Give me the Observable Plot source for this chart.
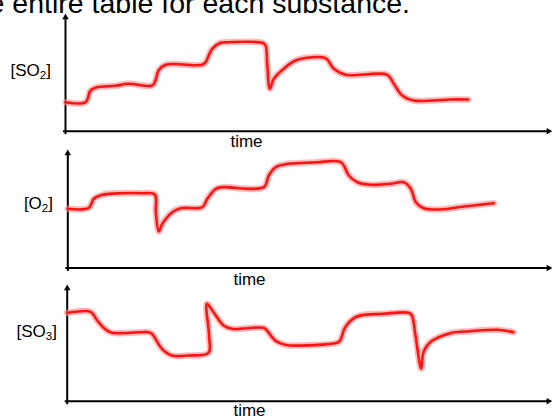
<!DOCTYPE html>
<html>
<head>
<meta charset="utf-8">
<script src="https://cdn.jsdelivr.net/npm/d3@7"></script>
<script src="https://cdn.jsdelivr.net/npm/@observablehq/plot@0.6"></script>
<style>
  html, body { margin: 0; padding: 0; background: #fff; }
  body { width: 552px; height: 419px; position: relative; overflow: hidden;
         font-family: "Liberation Sans", Arial, sans-serif; color: #000; }
  .abs { position: absolute; white-space: nowrap; line-height: 1; }
  .heading { font-size: 28.5px; right: 142px; top: -11px; text-align: right; }
  .ylab { font-size: 17px; text-align: right; left: 0; }
  .ylab sub { font-size: 0.68em; vertical-align: -0.22em; line-height: 0; }
  .tlab { font-size: 17px; width: 100px; text-align: center; line-height: 14px; }
  .panel { position: absolute; left: 0; }
  .panel svg { display: block; background: transparent; }
</style>
</head>
<body>
<script>
// ---- data (time in arbitrary units from axis origin, concentration in arbitrary units) ----
const headingText = "Complete the entire table for each substance.";
const species = [["SO", "2"], ["O", "2"], ["SO", "3"]];
const timeLabel = "time";

const so2Time = [0, 20, 25, 31.7, 50, 63, 86.7, 90, 93, 100, 136.7, 140, 146.7, 155, 163, 196.7, 200, 201.7, 204.3, 208.3, 220, 230, 238.3, 260, 268.3, 280, 321.7, 328.3, 336.7, 348.3, 368.3, 385, 402.7];
const so2Conc = [29, 29, 40.7, 44, 45.4, 47.4, 45.7, 50.7, 60.7, 66.4, 66.4, 69, 82.4, 88.4, 89, 88.4, 85.7, 67.4, 42.4, 52.4, 64, 70.7, 73, 73, 62.4, 56.4, 56.4, 47.4, 35.7, 30.7, 30.7, 31.7, 31.7];

const o2Time = [0, 21, 26, 34.5, 54.5, 74.5, 87, 88, 91, 94.5, 104.5, 113, 134.5, 139.5, 148, 154.5, 196, 201, 208, 221, 238, 249.5, 273, 281, 289.5, 303, 323, 336, 343, 348, 356, 373, 396, 426];
const o2Conc = [59.2, 60.2, 69.2, 73.2, 74.8, 74.8, 73.5, 55.8, 36.5, 44.2, 55.8, 59.8, 60.8, 69.2, 79.2, 80.8, 80.8, 92.5, 100.8, 104.2, 105.2, 105.8, 105.8, 92.5, 85.8, 83.2, 84.2, 85.8, 79.2, 65.8, 59.8, 58.5, 61.5, 64.8];

const so3Time = [0, 21.3, 24.7, 31.3, 43, 81.3, 84.7, 94.7, 104.7, 121.3, 141.3, 142, 139.7, 146.3, 156.3, 164.7, 196.3, 199.7, 208, 218, 223, 269.7, 273, 278, 289.7, 316.3, 341.3, 344.7, 348, 354, 356.3, 363, 383, 403, 429.7, 446.3];
const so3Conc = [88.4, 90, 88.4, 79, 69, 69, 67.4, 52.4, 45.7, 45.7, 48.4, 64, 97.4, 89, 75.7, 72.4, 73.4, 70.7, 60.7, 56.4, 55.7, 58.4, 60.7, 74, 84.7, 87.4, 88.4, 85.7, 67.4, 32.4, 49, 59, 68, 70, 71.4, 69];

const series = [
  {time: so2Time, conc: so2Conc},
  {time: o2Time, conc: o2Conc},
  {time: so3Time, conc: so3Conc}
];

// ---- layout (pixels) ----
const W = 552;
const layout = [
  {top: 0,   height: 136, originX: 65,   tipY: 13,  axisY: 130.7, labelRight: 51, labelBase: 76,    timeX: 246.5, timeBase: 148},
  {top: 140, height: 132, originX: 67.3, tipY: 149, axisY: 267.5, labelRight: 53, labelBase: 209,   timeX: 249.5, timeBase: 286},
  {top: 276, height: 130, originX: 66.7, tipY: 284, axisY: 400.7, labelRight: 57, labelBase: 337.7, timeX: 249.5, timeBase: 417}
];

const body = document.body;

// heading (cut off at the top and left in the reference)
const h = document.createElement("div");
h.className = "abs heading";
h.textContent = headingText;
body.appendChild(h);

const ascent = 0.8465;          // baseline offset within a line-height:1 box (Liberation Sans)
const timeAscent = 12.9;        // baseline offset for the 14px line box of the time labels

layout.forEach((L, i) => {
  const data = series[i].time.map((t, k) => ({t, c: series[i].conc[k]}));
  const xMax = W - L.originX;
  const yMax = L.axisY - L.tipY;
  const mTop = L.tipY - L.top;
  const mBottom = L.top + L.height - L.axisY;

  const chart = Plot.plot({
    width: W,
    height: L.height,
    marginLeft: L.originX,
    marginRight: 0,
    marginTop: mTop,
    marginBottom: mBottom,
    x: {domain: [0, xMax], axis: null},
    y: {domain: [0, yMax], axis: null},
    marks: [
      Plot.ruleY([0], {x1: -2, x2: xMax - 3, stroke: "#000", strokeWidth: 2}),
      Plot.ruleX([0], {y1: -3.5, y2: yMax - 3, stroke: "#000", strokeWidth: 2}),
      Plot.dot([{x: 0, y: yMax}], {x: "x", y: "y", symbol: "triangle", r: 2.4, fill: "#000", stroke: null, dy: 3.8}),
      Plot.dot([{x: xMax, y: 0}], {x: "x", y: "y", symbol: "triangle", r: 2.4, fill: "#000", stroke: null, rotate: 90, dx: -4}),
      Plot.line(data, {x: "t", y: "c", curve: "catmull-rom", stroke: "#ff8e8e", strokeOpacity: 0.6, strokeWidth: 6.5}),
      Plot.line(data, {x: "t", y: "c", curve: "catmull-rom", stroke: "#ff1414", strokeWidth: 2.6})
    ]
  });

  const wrap = document.createElement("div");
  wrap.className = "panel";
  wrap.style.top = L.top + "px";
  wrap.appendChild(chart);
  body.appendChild(wrap);

  // y label with subscript
  const yl = document.createElement("div");
  yl.className = "abs ylab";
  yl.style.width = L.labelRight + "px";
  yl.style.top = (L.labelBase - ascent * 17) + "px";
  yl.innerHTML = "[" + species[i][0] + "<sub>" + species[i][1] + "</sub>]";
  body.appendChild(yl);

  // time label
  const tl = document.createElement("div");
  tl.className = "abs tlab";
  tl.style.left = (L.timeX - 50) + "px";
  tl.style.top = (L.timeBase - timeAscent) + "px";
  tl.textContent = timeLabel;
  body.appendChild(tl);
});
</script>
</body>
</html>
